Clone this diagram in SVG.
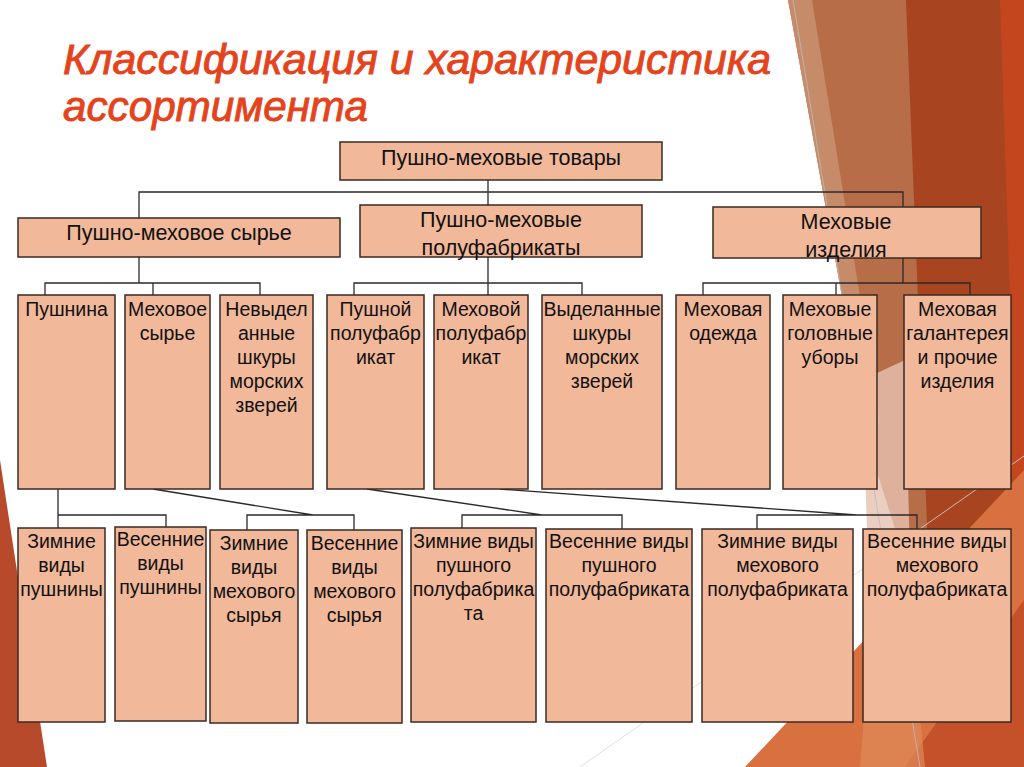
<svg xmlns="http://www.w3.org/2000/svg" width="1024" height="767" viewBox="0 0 1024 767">
<style>
.b{fill:#F2B89A;stroke:#3a2a22;stroke-width:1.5}
.t{font-family:"Liberation Sans",Arial,sans-serif;fill:#111;text-anchor:middle}
.t1{font-size:21.5px}
.t2{font-size:19.5px}
.c{stroke:#2a2a2a;stroke-width:1.3;fill:none}
.title{font-family:"Liberation Sans",Arial,sans-serif;font-style:italic;font-size:42px;fill:#E4431C;stroke:#E4431C;stroke-width:0.9}
</style>
<rect width="1024" height="767" fill="#ffffff"/>
<g id="background">
<polygon points="0,460 47,767 0,767" fill="#B84A2C"/>
<polygon points="788,0 1024,0 1024,767 960,767 905,560 870,450" fill="#B76D48"/>
<polygon points="788,0 812,0 880,420 870,450" fill="#C68C6A"/>
<polygon points="906,0 1000,0 1024,200 1024,767 930,600" fill="#A8441F"/>
<polygon points="1000,0 1024,0 1024,767 1000,767 1010,300" fill="#C3461E"/>
<polygon points="862,380 905,360 912,640 870,620" fill="#E6C2B0" opacity="0.8"/>
<polygon points="745,767 1024,470 1024,767" fill="#D8703F"/>
<polygon points="905,767 1024,600 1024,767" fill="#C4512A"/>
<polygon points="870,640 905,560 925,767 860,767" fill="#E08A5A" opacity="0.7"/>
<line x1="793" y1="0" x2="920" y2="767" stroke="#bbbbbb" stroke-width="0.8"/>
<line x1="580" y1="767" x2="1024" y2="456" stroke="#d8d8d8" stroke-width="0.8"/>
</g>
<g id="title">
<text class="title" x="63" y="74" textLength="708" lengthAdjust="spacingAndGlyphs">Классификация и характеристика</text>
<text class="title" x="63" y="121" textLength="305" lengthAdjust="spacingAndGlyphs">ассортимента</text>
</g>
<g id="connectors">
<path class="c" d="M488,180V205M139,218V192H903V207"/>
<path class="c" d="M139,257V283M45,295V283H260V295M153,283V295"/>
<path class="c" d="M488,257V295M354,295V283H582V295"/>
<path class="c" d="M903,258V283M703,295V283H970V295M836,283V295"/>
<path class="c" d="M58,489V528M58,515H166V527"/>
<path class="c" d="M153,489L313,515M247,530V515H354V530"/>
<path class="c" d="M367,489L542,515M462,528V515H622V529"/>
<path class="c" d="M500,489L857,515M757,529V515H917V529"/>
</g>
<g id="n0"><rect class="b" x="340" y="142" width="322" height="38"/><text class="t t1" x="501" y="165">Пушно-меховые товары</text></g>
<g id="n1"><rect class="b" x="18" y="218" width="322" height="39"/><text class="t t1" x="179" y="240">Пушно-меховое сырье</text></g>
<g id="n2"><rect class="b" x="360" y="205" width="282" height="52"/><text class="t t1" x="501" y="227">Пушно-меховые</text><text class="t t1" x="501" y="255">полуфабрикаты</text></g>
<g id="n3"><rect class="b" x="713" y="207" width="268" height="51"/><text class="t t1" x="846" y="229">Меховые</text><text class="t t1" x="846" y="257">изделия</text></g>
<g id="n4"><rect class="b" x="18" y="295" width="97" height="194"/><text class="t t2" x="66.5" y="316">Пушнина</text></g>
<g id="n5"><rect class="b" x="125" y="295" width="85" height="194"/><text class="t t2" x="167.5" y="316">Меховое</text><text class="t t2" x="167.5" y="340">сырье</text></g>
<g id="n6"><rect class="b" x="220" y="295" width="93" height="194"/><text class="t t2" x="266.5" y="316">Невыдел</text><text class="t t2" x="266.5" y="340">анные</text><text class="t t2" x="266.5" y="364">шкуры</text><text class="t t2" x="266.5" y="388">морских</text><text class="t t2" x="266.5" y="412">зверей</text></g>
<g id="n7"><rect class="b" x="327" y="295" width="97" height="194"/><text class="t t2" x="375.5" y="316">Пушной</text><text class="t t2" x="375.5" y="340">полуфабр</text><text class="t t2" x="375.5" y="364">икат</text></g>
<g id="n8"><rect class="b" x="434" y="295" width="94" height="194"/><text class="t t2" x="481" y="316">Меховой</text><text class="t t2" x="481" y="340">полуфабр</text><text class="t t2" x="481" y="364">икат</text></g>
<g id="n9"><rect class="b" x="542" y="295" width="120" height="194"/><text class="t t2" x="602" y="316">Выделанные</text><text class="t t2" x="602" y="340">шкуры</text><text class="t t2" x="602" y="364">морских</text><text class="t t2" x="602" y="388">зверей</text></g>
<g id="n10"><rect class="b" x="676" y="295" width="94" height="194"/><text class="t t2" x="723" y="316">Меховая</text><text class="t t2" x="723" y="340">одежда</text></g>
<g id="n11"><rect class="b" x="783" y="295" width="94" height="194"/><text class="t t2" x="830" y="316">Меховые</text><text class="t t2" x="830" y="340">головные</text><text class="t t2" x="830" y="364">уборы</text></g>
<g id="n12"><rect class="b" x="904" y="295" width="107" height="194"/><text class="t t2" x="957.5" y="316">Меховая</text><text class="t t2" x="957.5" y="340">галантерея</text><text class="t t2" x="957.5" y="364">и прочие</text><text class="t t2" x="957.5" y="388">изделия</text></g>
<g id="n13"><rect class="b" x="18" y="528" width="87" height="194"/><text class="t t2" x="61.5" y="548">Зимние</text><text class="t t2" x="61.5" y="572">виды</text><text class="t t2" x="61.5" y="596">пушнины</text></g>
<g id="n14"><rect class="b" x="115" y="527" width="91" height="194"/><text class="t t2" x="160.5" y="546">Весенние</text><text class="t t2" x="160.5" y="570">виды</text><text class="t t2" x="160.5" y="594">пушнины</text></g>
<g id="n15"><rect class="b" x="210" y="530" width="88" height="193"/><text class="t t2" x="254" y="550">Зимние</text><text class="t t2" x="254" y="574">виды</text><text class="t t2" x="254" y="598">мехового</text><text class="t t2" x="254" y="622">сырья</text></g>
<g id="n16"><rect class="b" x="307" y="530" width="95" height="193"/><text class="t t2" x="354.5" y="550">Весенние</text><text class="t t2" x="354.5" y="574">виды</text><text class="t t2" x="354.5" y="598">мехового</text><text class="t t2" x="354.5" y="622">сырья</text></g>
<g id="n17"><rect class="b" x="411" y="528" width="125" height="194"/><text class="t t2" x="473.5" y="548">Зимние виды</text><text class="t t2" x="473.5" y="572">пушного</text><text class="t t2" x="473.5" y="596">полуфабрика</text><text class="t t2" x="473.5" y="620">та</text></g>
<g id="n18"><rect class="b" x="546" y="529" width="146" height="193"/><text class="t t2" x="619" y="548">Весенние виды</text><text class="t t2" x="619" y="572">пушного</text><text class="t t2" x="619" y="596">полуфабриката</text></g>
<g id="n19"><rect class="b" x="702" y="529" width="151" height="193"/><text class="t t2" x="777.5" y="548">Зимние виды</text><text class="t t2" x="777.5" y="572">мехового</text><text class="t t2" x="777.5" y="596">полуфабриката</text></g>
<g id="n20"><rect class="b" x="863" y="529" width="148" height="193"/><text class="t t2" x="937" y="548">Весенние виды</text><text class="t t2" x="937" y="572">мехового</text><text class="t t2" x="937" y="596">полуфабриката</text></g>
</svg>
